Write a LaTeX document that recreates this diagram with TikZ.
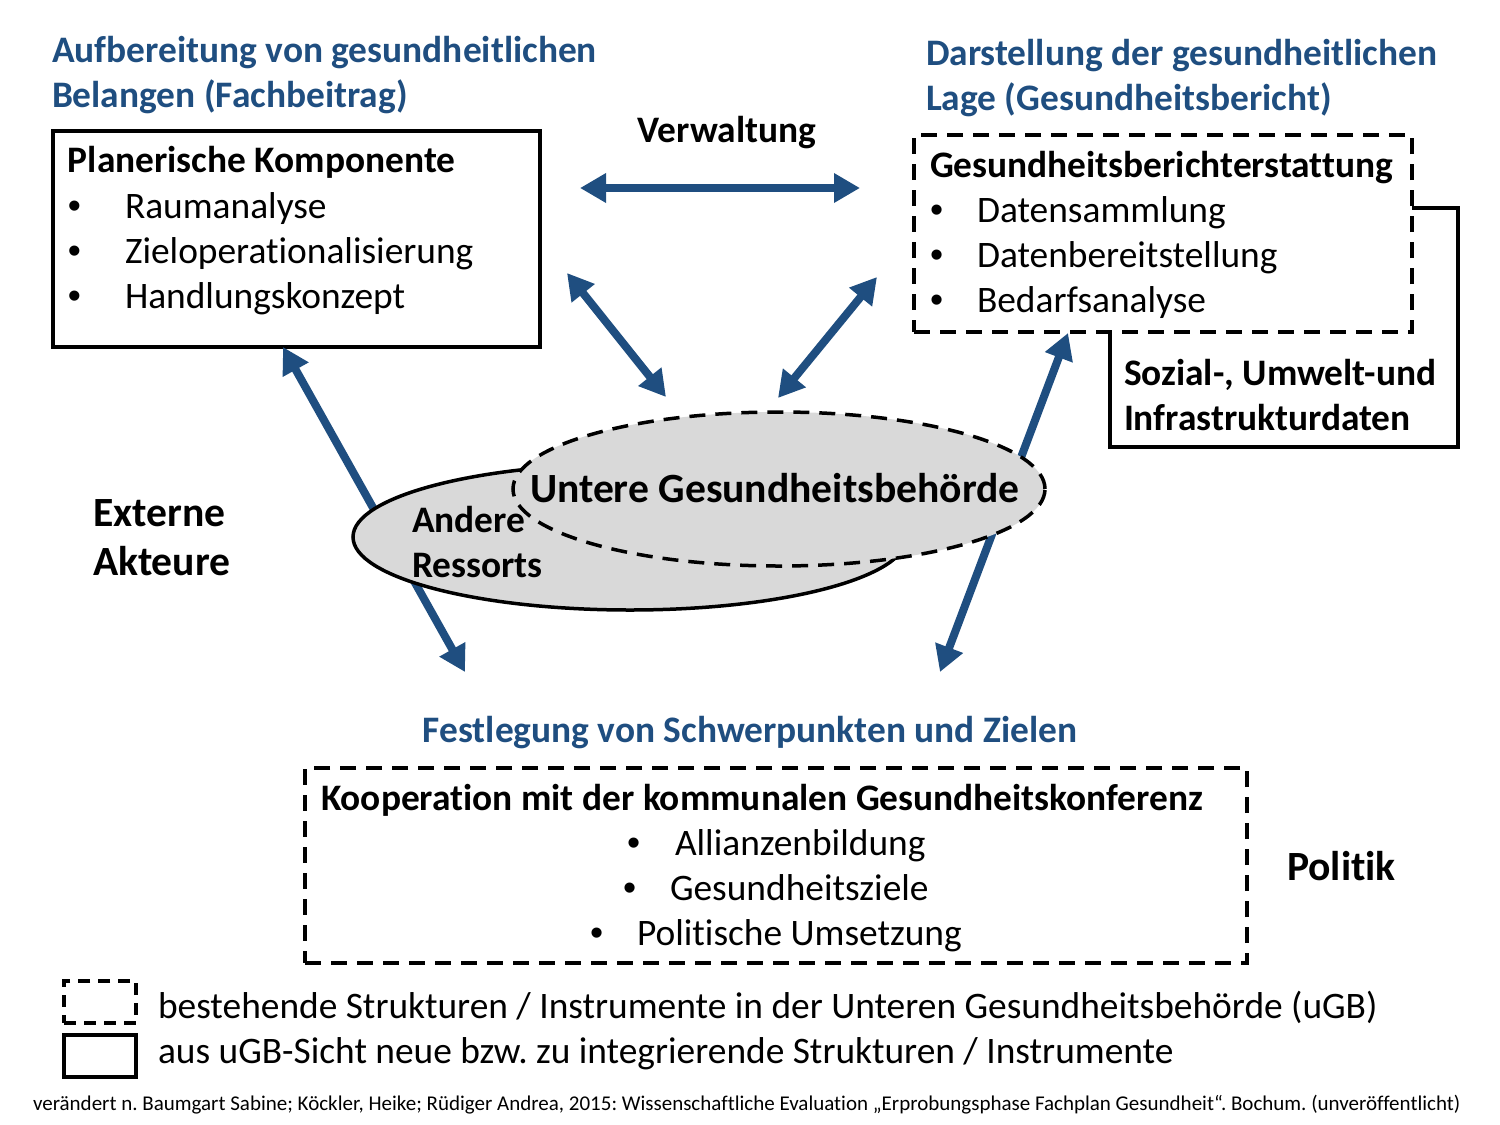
\documentclass[tikz,border=0pt]{standalone}
\usepackage{fontspec}
\setmainfont{Carlito}[Ligatures=NoCommon]
\newfontfamily\bulletfont{Liberation Sans}
\usetikzlibrary{arrows.meta,shapes.geometric}
\definecolor{navy}{RGB}{31,78,128}
\definecolor{ellgray}{RGB}{217,217,217}
\frenchspacing
\begin{document}
\begin{tikzpicture}[x=0.5pt,y=-0.5pt,
  every node/.style={inner sep=0pt, outer sep=0pt},
  heading/.style={font=\fontsize{18.7}{22}\selectfont\bfseries, text=navy, anchor=base west},
  txt/.style={font=\fontsize{18.7}{22}\selectfont, anchor=base west},
  btxt/.style={font=\fontsize{18.7}{22}\selectfont\bfseries, anchor=base west},
  bigtxt/.style={font=\fontsize{20.8}{24}\selectfont\bfseries, anchor=base west},
  solidbox/.style={draw, line width=1.75pt, fill=white, anchor=north west},
  dashbox/.style={draw, line width=1.75pt, dash pattern=on 8pt off 5pt, fill=white, anchor=north west},
  flow/.style={draw=navy, line width=4pt, {Triangle[width=14pt,length=13pt]}-{Triangle[width=14pt,length=13pt]}},
  bul/.style={font=\fontsize{18.7}{22}\bulletfont, anchor=base west}
]
\useasboundingbox (0,0) rectangle (1500,1125);

% boxes
\node[solidbox, minimum width=174pt, minimum height=119.5pt] (daten) at (1110,208) {};
\node[dashbox, minimum width=249pt, minimum height=98.5pt] (gbe) at (914,135) {};
\node[solidbox, minimum width=243.5pt, minimum height=108pt] (plan) at (53,131) {};
\node[dashbox, minimum width=471pt, minimum height=97.5pt] (koop) at (305,768) {};

% arrow end points
\coordinate (hl) at (580,188);   \coordinate (hr) at (860,188);
\coordinate (ul1) at (567,273);  \coordinate (ul2) at (666,397);
\coordinate (ur1) at (877,277);  \coordinate (ur2) at (778,398);
\coordinate (ll1) at (283,347);  \coordinate (ll2) at (465,672);
\coordinate (lr1) at (1068,333); \coordinate (lr2) at (940,672);

\draw[flow] (hl) -- (hr);
\draw[flow] (ul1) -- (ul2);
\draw[flow] (ur1) -- (ur2);
\draw[flow] (ll1) -- (ll2);
\draw[flow] (lr1) -- (lr2);

% ellipses
\node[ellipse, draw, line width=1.75pt, fill=ellgray, minimum width=277pt, minimum height=73pt] (ressorts) at (630,537) {};
\node[ellipse, draw, line width=1.75pt, dash pattern=on 8pt off 5pt, fill=ellgray, minimum width=266pt, minimum height=77pt] (ugb) at (779,489) {};

% headings
\node[heading] (h1a) at (52,62) {Aufbereitung von gesundheitlichen};
\node[heading] (h1b) at (52,107) {Belangen (Fachbeitrag)};
\node[heading] (h2a) at (926,65) {Darstellung der gesundheitlichen};
\node[heading] (h2b) at (926,110) {Lage (Gesundheitsbericht)};
\node[heading, anchor=base] (h3) at (750,742) {Festlegung von Schwerpunkten und Zielen};

% box 1
\node[btxt] (p0) at (68,172) {Planerische Komponente};
\node[bul] (pb1) at (68,218) {•}; \node[txt] (p1) at (125,218) {Raumanalyse};
\node[bul] (pb2) at (68,263) {•}; \node[txt] (p2) at (125,263) {Zieloperationalisierung};
\node[bul] (pb3) at (68,308) {•}; \node[txt] (p3) at (125,308) {Handlungskonzept};

% box 2
\node[btxt] (g0) at (930,177) {Gesundheitsberichterstattung};
\node[bul] (gb1) at (930,222) {•}; \node[txt] (g1) at (977,222) {Datensammlung};
\node[bul] (gb2) at (930,267) {•}; \node[txt] (g2) at (977,267) {Datenbereitstellung};
\node[bul] (gb3) at (930,312) {•}; \node[txt] (g3) at (977,312) {Bedarfsanalyse};

% data box
\node[btxt] (d1) at (1124,385) {Sozial-, Umwelt-und};
\node[btxt] (d2) at (1124,430) {Infrastrukturdaten};

% middle
\node[btxt, anchor=base] (verw) at (727,142) {Verwaltung};
\node[bigtxt] (ugbt) at (530,502) {Untere Gesundheitsbehörde};
\node[btxt] (and1) at (412,532) {Andere};
\node[btxt] (and2) at (412,577) {Ressorts};
\node[bigtxt] (ext1) at (93,526) {Externe};
\node[bigtxt] (ext2) at (93,575) {Akteure};
\node[bigtxt] (pol) at (1287,880) {Politik};

% box 3
\node[btxt] (k0) at (321,810) {Kooperation mit der kommunalen Gesundheitskonferenz};
\node[bul] (kb1) at (627,855) {•}; \node[txt] (k1) at (675,855) {Allianzenbildung};
\node[bul] (kb2) at (623,900) {•}; \node[txt] (k2) at (670,900) {Gesundheitsziele};
\node[bul] (kb3) at (590,945) {•}; \node[txt] (k3) at (637,945) {Politische Umsetzung};

% legend
\node[draw, line width=2.25pt, dash pattern=on 6pt off 4pt, anchor=north west, minimum width=36pt, minimum height=21pt] (lg1) at (64,981) {};
\node[draw, line width=2.25pt, anchor=north west, minimum width=36pt, minimum height=21pt] (lg2) at (64,1035) {};
\node[txt] (lt1) at (158,1018) {bestehende Strukturen / Instrumente in der Unteren Gesundheitsbehörde (uGB)};
\node[txt] (lt2) at (158,1063) {aus uGB-Sicht neue bzw. zu integrierende Strukturen / Instrumente};

% source
\node[font=\fontsize{10.5}{12}\selectfont, anchor=base west] (src) at (33,1110) {verändert n. Baumgart Sabine; Köckler, Heike; Rüdiger Andrea, 2015: Wissenschaftliche Evaluation „Erprobungsphase Fachplan Gesundheit“. Bochum. (unveröffentlicht)};
\end{tikzpicture}
\end{document}
